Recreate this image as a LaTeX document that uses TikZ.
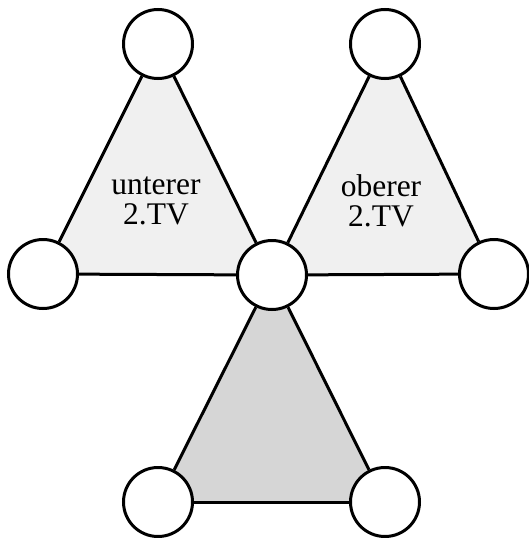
\documentclass[tikz,border=0pt]{standalone}
\usepackage{fontspec}
\setmainfont{Liberation Serif}
\usetikzlibrary{backgrounds}
\begin{document}
\begin{tikzpicture}[x=1pt,y=-1pt,
  vertex/.style={circle,draw=black,fill=white,line width=3pt,minimum size=69pt,inner sep=0pt},
  edge/.style={draw=black,line width=3pt},
  lightfill/.style={fill=black!6},
  darkfill/.style={fill=black!16},
  lbl/.style={align=center,font=\fontsize{31.5}{30}\selectfont,inner sep=0pt}]
\useasboundingbox (0,0) rectangle (529,538);
\node[vertex] (tl) at (158,44) {};
\node[vertex] (tr) at (385,44) {};
\node[vertex] (ml) at (43,274) {};
\node[vertex] (mc) at (272,275) {};
\node[vertex] (mr) at (494,274) {};
\node[vertex] (bl) at (158,502) {};
\node[vertex] (br) at (385,502) {};
\node[lbl] (t1) at (156,201) {unterer\\2.TV};
\node[lbl] (t2) at (381,201) {oberer\\2.TV};
\begin{scope}[on background layer]
  \fill[lightfill] (tl.center) -- (ml.center) -- (mc.center) -- cycle;
  \fill[lightfill] (tr.center) -- (mc.center) -- (mr.center) -- cycle;
  \fill[darkfill] (mc.center) -- (bl.center) -- (br.center) -- cycle;
  \draw[edge] (tl) -- (ml);
  \draw[edge] (tl) -- (mc);
  \draw[edge] (ml) -- (mc);
  \draw[edge] (tr) -- (mc);
  \draw[edge] (tr) -- (mr);
  \draw[edge] (mc) -- (mr);
  \draw[edge] (mc) -- (bl);
  \draw[edge] (mc) -- (br);
  \draw[edge] (bl) -- (br);
\end{scope}
\end{tikzpicture}
\end{document}
